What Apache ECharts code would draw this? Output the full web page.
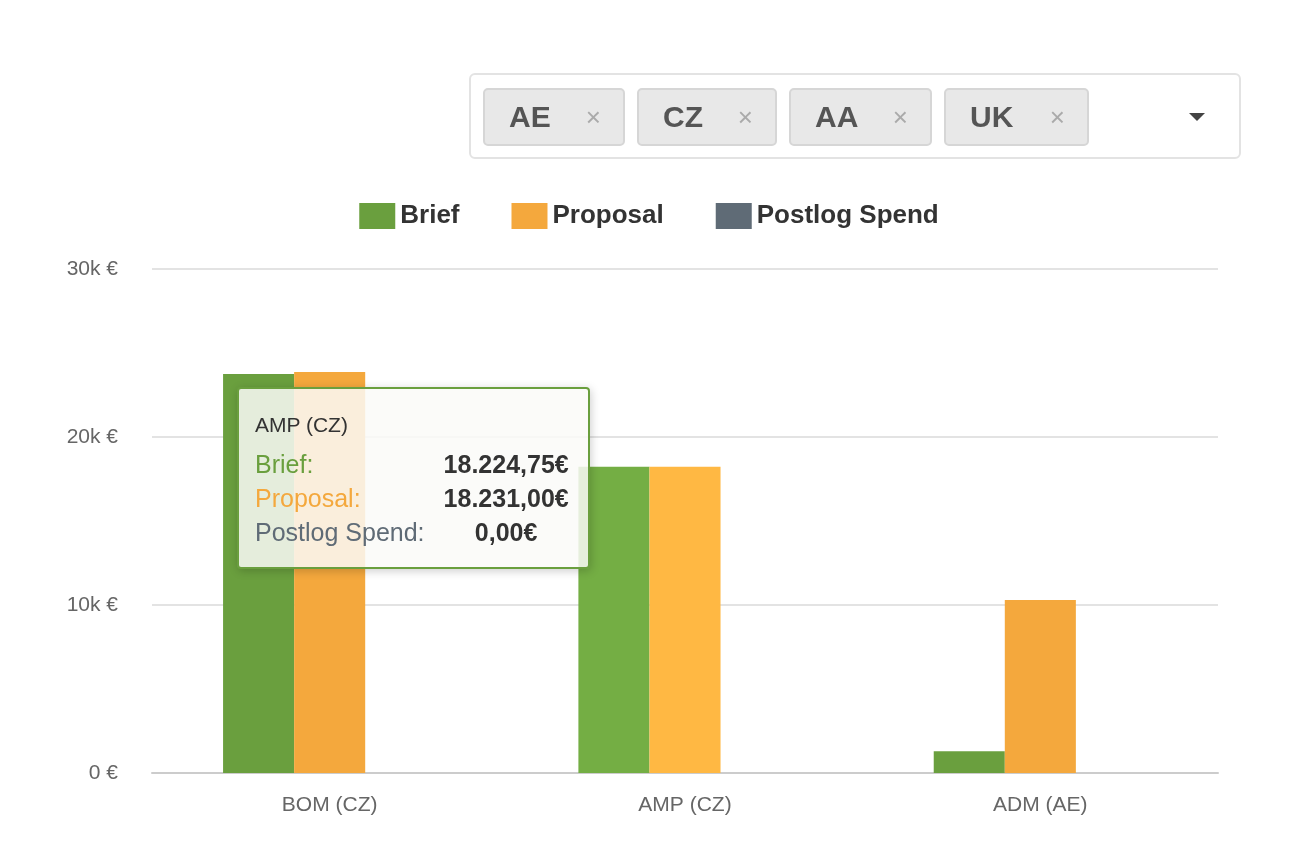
<!DOCTYPE html>
<html>
<head>
<meta charset="utf-8">
<script src="https://cdn.jsdelivr.net/npm/echarts@6/dist/echarts.min.js"></script>
<style>
body { margin: 0; background: #fff; font-family: "Liberation Sans", Arial, sans-serif; }
#chart { width: 1298px; height: 856px; }
.sel { position: absolute; left: 469px; top: 73px; width: 772px; height: 86px; border: 2px solid #e3e3e3; border-radius: 6px; box-sizing: border-box; }
.tag { position: absolute; top: 13px; height: 58px; background: #e8e8e8; border: 2px solid #d6d6d6; border-radius: 5px; box-sizing: border-box; font-size: 30px; font-weight: bold; color: #555; line-height: 54px; padding-left: 24px; }
.tag span { position: absolute; right: 22px; color: #aaa; font-weight: normal; font-size: 26px; }
.caret { position: absolute; right: 34px; top: 38px; width: 0; height: 0; border-left: 8px solid transparent; border-right: 8px solid transparent; border-top: 8px solid #444; }
</style>
</head>
<body>
<div id="chart"></div>
<div class="sel">
  <div class="tag" style="left:12px;width:142px">AE<span>×</span></div>
  <div class="tag" style="left:166px;width:140px">CZ<span>×</span></div>
  <div class="tag" style="left:318px;width:143px">AA<span>×</span></div>
  <div class="tag" style="left:473px;width:145px">UK<span>×</span></div>
  <div class="caret"></div>
</div>
<script>
var categories = ['BOM (CZ)', 'AMP (CZ)', 'ADM (AE)'];
var briefData = [23750, 18224.75, 1300];
var proposalData = [23870, 18231.00, 10300];
var postlogData = [0, 0, 0];
var seriesNames = ['Brief', 'Proposal', 'Postlog Spend'];
var colors = ['#6a9f3e', '#f4a83d', '#5f6b76'];

function fmt(v) {
    var s = v.toFixed(2).split('.');
    return s[0].replace(/\B(?=(\d{3})+(?!\d))/g, '.') + ',' + s[1] + '€';
}

var myChart = echarts.init(document.getElementById('chart'));
var option = {
    color: colors,
    animation: false,
    legend: {
        top: 198,
        left: 'center',
        itemWidth: 36,
        itemHeight: 26,
        itemGap: 52,
        icon: 'rect',
        textStyle: { fontSize: 26, fontWeight: 'bold', color: '#333', fontFamily: 'Liberation Sans' },
        data: seriesNames
    },
    tooltip: {
        trigger: 'axis',
        alwaysShowContent: true,
        axisPointer: { type: 'none' },
        position: [237, 387],
        backgroundColor: 'rgba(250,250,248,0.85)',
        borderColor: '#6a9f3e',
        borderWidth: 2,
        padding: [18, 18, 18, 16],
        textStyle: { fontSize: 24, fontFamily: 'Liberation Sans' },
        formatter: function (params) {
            var h = '<div style="font-size:21px;color:#333;margin-bottom:4px">' + params[0].name + '</div><table style="border-collapse:collapse;font-size:25px;line-height:32px">';
            params.forEach(function (p) {
                h += '<tr><td style="color:' + p.color + ';padding:0 18px 0 0">' + p.seriesName + ':</td>' +
                     '<td style="font-weight:bold;color:#333;text-align:center">' + fmt(p.value) + '</td></tr>';
            });
            return h + '</table>';
        }
    },
    grid: { left: 152, right: 80, top: 269, bottom: 83 },
    xAxis: {
        type: 'category',
        data: categories,
        axisLine: { lineStyle: { color: '#ccc', width: 2 } },
        axisTick: { length: 22, lineStyle: { color: '#ccc', width: 2 } },
        axisLabel: { fontSize: 21, color: '#666', margin: 22, fontFamily: 'Liberation Sans' }
    },
    yAxis: {
        type: 'value',
        min: 0,
        max: 30000,
        interval: 10000,
        axisLabel: {
            fontSize: 21, color: '#666', margin: 34, fontFamily: 'Liberation Sans',
            formatter: function (v) { return v === 0 ? '0 €' : (v / 1000) + 'k €'; }
        },
        splitLine: { lineStyle: { color: '#e3e3e3', width: 2 } }
    },
    series: [
        { name: seriesNames[0], type: 'bar', barGap: '0%', barCategoryGap: '40%', data: briefData },
        { name: seriesNames[1], type: 'bar', data: proposalData },
        { name: seriesNames[2], type: 'bar', data: postlogData }
    ]
};
myChart.setOption(option);
myChart.dispatchAction({ type: 'showTip', seriesIndex: 0, dataIndex: 1 });
</script>
</body>
</html>
